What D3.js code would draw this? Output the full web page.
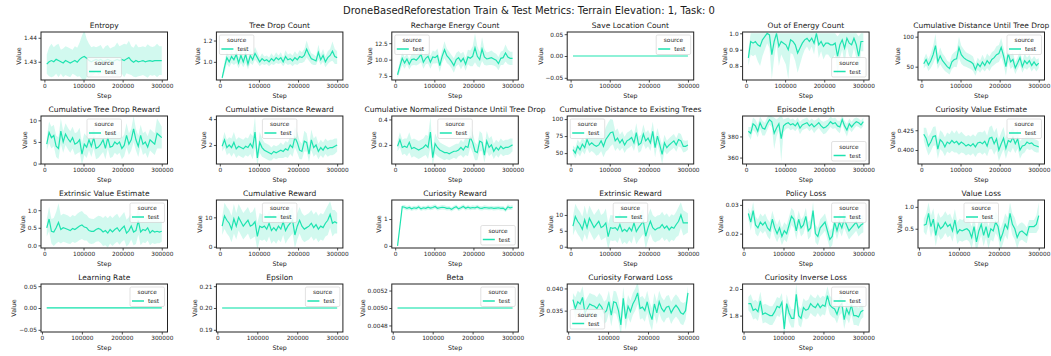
<!DOCTYPE html>
<html><head><meta charset="utf-8">
<script src="https://cdn.jsdelivr.net/npm/d3@7"></script>
<style>body{margin:0;background:#fff}svg text{font-family:"DejaVu Sans",sans-serif}</style>
</head><body><svg id="c" width="1051" height="356"></svg>
<script>
const stepsA = d3.range(6000, 300001, 6000);   // 50 summary steps
const stepsB = d3.range(12000, 300001, 6000);  // 49 summary steps
const xTicks = [0, 100000, 200000, 300000];

const entropy = [1.4290,1.4300,1.4305,1.4300,1.4310,1.4305,1.4300,1.4295,1.4305,1.4300,
 1.4295,1.4300,1.4305,1.4298,1.4310,1.4318,1.4322,1.4315,1.4305,1.4300,
 1.4305,1.4310,1.4305,1.4310,1.4302,1.4305,1.4310,1.4305,1.4300,1.4305,
 1.4310,1.4305,1.4310,1.4305,1.4312,1.4318,1.4305,1.4298,1.4305,1.4300,
 1.4302,1.4305,1.4300,1.4303,1.4305,1.4302,1.4305,1.4305,1.4305,1.4305];
const entropySpread = [0.004,0.006,0.007,0.006,0.006,0.007,0.005,0.006,0.006,0.006,
 0.006,0.005,0.006,0.006,0.007,0.009,0.011,0.008,0.007,0.006,
 0.006,0.005,0.006,0.006,0.005,0.006,0.006,0.005,0.006,0.006,
 0.007,0.006,0.006,0.007,0.006,0.007,0.006,0.006,0.007,0.006,
 0.006,0.006,0.006,0.007,0.006,0.006,0.006,0.007,0.006,0.006];

const treeDrop = [0.85,0.95,1.04,1.00,1.05,1.02,1.07,0.99,1.06,1.00,
 1.07,0.98,1.06,1.02,1.08,1.04,1.00,1.03,1.01,1.02,
 1.00,1.03,1.01,1.04,1.02,1.04,1.00,1.05,1.02,1.03,
 1.01,1.04,1.02,1.05,1.04,1.06,1.12,1.07,1.03,1.02,
 1.01,1.09,1.02,1.06,1.00,1.04,1.06,1.10,1.05,1.04];
const treeDropSpread = [0.02,0.05,0.06,0.05,0.06,0.05,0.08,0.05,0.07,0.05,
 0.08,0.05,0.07,0.05,0.06,0.05,0.04,0.05,0.04,0.04,
 0.04,0.05,0.04,0.05,0.04,0.05,0.04,0.06,0.05,0.05,
 0.05,0.06,0.05,0.06,0.05,0.06,0.08,0.06,0.05,0.05,
 0.04,0.07,0.05,0.06,0.05,0.06,0.06,0.09,0.07,0.06];

const recharge = [7.7,9.0,10.2,9.5,10.1,9.3,10.0,10.1,9.9,10.3,
 10.8,9.6,10.2,10.5,9.6,10.4,10.3,10.6,9.1,10.5,
 11.5,10.6,10.2,9.7,9.1,10.0,10.3,9.7,10.2,9.3,
 10.4,10.2,10.5,11.8,10.5,10.0,11.6,10.4,10.1,10.2,
 10.3,10.1,9.9,9.4,10.2,10.3,11.0,10.4,10.2,10.2];
const rechargeSpread = [0.5,0.8,1.0,0.9,0.8,0.8,0.9,0.9,0.8,1.0,
 1.2,1.0,0.9,1.1,1.0,1.0,0.9,1.1,1.0,1.0,
 1.3,1.1,1.0,1.0,1.1,1.0,1.0,1.2,1.0,1.0,
 1.1,1.2,1.5,2.2,1.5,1.2,1.8,1.2,1.0,1.0,
 1.1,1.0,1.0,1.0,1.0,1.1,1.3,1.1,1.0,1.0];

const saveLoc = stepsA.map(() => 0);
const saveLocSpread = stepsA.map(() => 0);

const outEnergy = [0.85,0.95,0.94,0.95,0.93,0.92,0.96,0.98,1.00,0.99,
 0.87,0.95,1.00,0.92,0.95,0.94,0.93,0.90,0.96,0.95,
 0.93,0.88,0.91,0.94,0.96,0.97,0.95,0.97,0.94,1.00,
 0.93,0.95,0.92,0.94,0.94,0.93,0.93,0.94,0.86,0.93,
 0.96,0.91,0.97,0.94,0.93,0.97,0.93,0.86,0.95,0.95];
const outEnergySpread = [0.05,0.08,0.08,0.08,0.10,0.12,0.10,0.08,0.06,0.08,
 0.15,0.10,0.06,0.12,0.08,0.10,0.12,0.18,0.08,0.08,
 0.10,0.12,0.10,0.08,0.06,0.05,0.06,0.05,0.07,0.04,
 0.08,0.06,0.08,0.07,0.07,0.08,0.08,0.07,0.12,0.08,
 0.06,0.10,0.05,0.08,0.08,0.06,0.08,0.12,0.06,0.06];

const cumDist = [55,62,53,60,70,85,58,68,60,55,
 50,47,58,62,63,82,70,65,62,60,
 58,55,45,55,50,58,52,60,55,62,
 65,70,72,82,68,50,72,58,62,48,
 56,65,50,60,55,60,52,58,52,56];
const cumDistSpread = [8,10,10,12,15,20,12,14,12,12,
 10,10,12,12,14,18,15,14,12,12,
 12,12,10,10,10,12,10,12,12,12,
 12,14,14,16,14,15,14,12,12,10,
 10,12,10,12,10,10,10,10,10,8];

const treeDropReward = [4.5,7.2,6.0,6.5,4.0,3.5,7.5,5.0,6.8,5.8,
 5.0,6.0,4.5,4.8,5.5,2.2,4.5,3.8,5.5,4.0,
 6.0,3.5,3.8,4.5,5.5,3.5,6.0,3.8,4.0,5.0,
 4.5,5.0,3.5,4.2,6.5,4.5,5.5,8.0,5.5,4.0,
 6.5,4.5,5.0,3.8,5.5,5.0,4.5,7.0,6.5,6.0];
const treeDropRewardSpread = [1.5,2.5,2.5,2.5,2.5,2.5,3.0,2.5,2.5,2.5,
 2.5,2.5,2.5,2.5,2.8,2.5,2.5,2.5,2.5,2.5,
 2.5,2.5,2.5,2.5,2.8,2.5,2.5,2.5,2.5,2.5,
 2.5,2.5,2.5,2.5,2.8,2.5,2.5,3.0,2.5,2.5,
 2.5,2.5,2.5,2.5,2.5,2.5,2.5,3.5,3.0,2.5];

const distReward = [1.9,2.4,1.8,2.0,1.8,2.2,1.7,1.9,1.8,1.7,
 1.9,1.8,2.1,1.8,3.0,1.0,2.2,1.8,1.6,1.5,
 1.4,1.3,1.5,1.4,1.5,1.6,1.5,1.7,1.6,2.0,
 1.8,2.6,2.2,1.6,1.5,2.3,2.2,1.3,2.4,1.8,
 2.0,1.5,1.8,1.6,1.9,1.7,1.8,1.8,1.9,2.0];
const distRewardSpread = [0.4,0.6,0.6,0.6,0.7,0.8,0.7,0.7,0.7,0.7,
 0.7,0.7,0.8,0.9,1.2,0.6,0.8,0.7,0.6,0.6,
 0.6,0.5,0.5,0.5,0.5,0.6,0.5,0.6,0.6,0.7,
 0.7,0.8,0.8,0.7,0.6,0.8,0.7,0.6,0.8,0.7,
 0.7,0.6,0.6,0.6,0.6,0.6,0.6,0.6,0.6,0.5];

const normDist = [0.19,0.24,0.18,0.19,0.18,0.22,0.17,0.18,0.17,0.16,
 0.17,0.18,0.20,0.18,0.30,0.10,0.21,0.18,0.16,0.15,
 0.14,0.14,0.13,0.14,0.15,0.15,0.16,0.18,0.16,0.19,
 0.18,0.26,0.22,0.15,0.14,0.23,0.22,0.12,0.23,0.18,
 0.20,0.15,0.18,0.16,0.19,0.17,0.18,0.18,0.19,0.20];
const normDistSpread = [0.04,0.06,0.06,0.06,0.07,0.08,0.07,0.07,0.07,0.07,
 0.07,0.07,0.08,0.09,0.12,0.06,0.08,0.07,0.06,0.06,
 0.06,0.05,0.05,0.05,0.05,0.06,0.05,0.06,0.06,0.07,
 0.07,0.08,0.08,0.07,0.06,0.08,0.07,0.06,0.08,0.07,
 0.07,0.06,0.06,0.06,0.06,0.06,0.06,0.06,0.06,0.05];

const existDist = [55,50,60,55,63,58,70,62,65,62,
 60,62,68,60,70,75,80,81,68,72,
 65,70,62,68,70,73,65,80,62,65,
 78,68,72,65,82,58,75,62,48,65,
 58,62,65,68,62,70,68,60,60,62];
const existDistSpread = [6,8,10,10,10,10,12,12,12,12,
 14,14,15,16,18,20,20,18,15,14,
 12,12,12,12,12,12,12,14,12,12,
 14,12,12,12,14,14,12,12,14,12,
 10,10,10,10,10,10,10,9,8,7];

const epLength = [385,383,392,390,385,393,388,387,392,396,
 394,383,388,392,378,390,392,393,391,392,
 390,393,388,391,392,393,390,392,389,391,
 393,390,388,389,391,394,392,393,390,389,
 396,390,386,392,389,392,394,393,391,394];
const epLengthSpread = [4,6,6,6,6,6,7,6,6,5,
 5,15,8,6,22,6,5,5,5,5,
 5,5,6,5,5,5,5,5,6,5,
 5,5,6,6,5,5,5,5,5,6,
 4,5,6,5,5,5,4,4,4,4];

const curValEst = [0.420,0.415,0.405,0.410,0.417,0.418,0.401,0.413,0.410,0.404,
 0.410,0.408,0.412,0.409,0.411,0.407,0.410,0.408,0.405,0.407,
 0.405,0.408,0.404,0.409,0.410,0.408,0.411,0.405,0.415,0.416,
 0.408,0.414,0.400,0.408,0.415,0.402,0.412,0.410,0.416,0.408,
 0.414,0.400,0.405,0.406,0.410,0.408,0.409,0.406,0.405,0.404];
const curValEstSpread = [0.008,0.013,0.012,0.012,0.012,0.012,0.012,0.012,0.012,0.012,
 0.012,0.012,0.013,0.012,0.014,0.013,0.013,0.012,0.012,0.012,
 0.012,0.012,0.013,0.013,0.013,0.014,0.014,0.013,0.014,0.015,
 0.014,0.014,0.014,0.014,0.014,0.013,0.013,0.013,0.013,0.012,
 0.012,0.011,0.010,0.009,0.008,0.008,0.008,0.008,0.008,0.007];

const extValEst = [0.50,0.75,0.40,0.38,0.50,0.65,0.45,0.50,0.48,0.45,
 0.42,0.48,0.45,0.50,0.55,0.58,0.52,0.50,0.42,0.40,
 0.40,0.45,0.48,0.45,0.38,0.42,0.35,0.45,0.38,0.45,
 0.50,0.40,0.48,0.55,0.35,0.42,0.55,0.38,0.42,0.70,
 0.38,0.45,0.42,0.50,0.35,0.42,0.38,0.40,0.38,0.40];
const extValEstSpread = [0.25,0.35,0.35,0.40,0.45,0.55,0.40,0.40,0.40,0.40,
 0.38,0.38,0.38,0.40,0.40,0.40,0.38,0.36,0.36,0.36,
 0.35,0.35,0.36,0.38,0.40,0.42,0.42,0.40,0.40,0.40,
 0.40,0.38,0.38,0.40,0.38,0.38,0.38,0.38,0.38,0.40,
 0.38,0.36,0.36,0.36,0.35,0.35,0.34,0.34,0.32,0.30];

const cumReward = [7.0,10.5,9.0,8.0,6.0,9.5,7.0,10.0,8.5,7.0,
 8.0,9.0,7.0,7.5,8.5,3.5,7.0,6.5,7.0,6.0,
 8.0,5.5,6.5,5.5,7.0,6.0,8.5,5.5,7.0,8.0,
 9.0,4.0,7.0,9.0,7.0,6.0,6.5,7.0,8.0,6.5,
 7.5,6.0,7.0,6.5,8.0,9.0,11.0,8.0,8.5,8.0];
const cumRewardSpread = [3.0,4.5,4.5,4.5,4.5,5.0,4.5,4.5,4.5,4.5,
 4.5,4.5,4.5,4.5,5.0,4.5,4.5,4.5,4.5,4.5,
 4.5,4.5,4.5,4.5,4.5,4.5,4.5,4.5,4.5,4.5,
 4.5,4.5,4.5,4.5,4.5,4.5,4.5,4.5,4.5,4.5,
 4.5,4.5,4.5,4.5,4.5,5.0,4.5,4.5,4.0,3.5];

const curReward = [0.00,0.72,1.46,1.44,1.40,1.43,1.38,1.42,1.40,1.45,
 1.38,1.42,1.40,1.44,1.41,1.43,1.47,1.40,1.42,1.44,
 1.43,1.40,1.41,1.36,1.42,1.46,1.38,1.42,1.47,1.40,
 1.44,1.41,1.43,1.42,1.45,1.41,1.40,1.43,1.42,1.41,
 1.42,1.40,1.41,1.42,1.40,1.41,1.34,1.45,1.42,1.44];
const curRewardSpread = [0.01,0.04,0.06,0.08,0.08,0.08,0.08,0.08,0.08,0.08,
 0.08,0.08,0.08,0.08,0.08,0.08,0.08,0.08,0.08,0.08,
 0.08,0.08,0.08,0.08,0.08,0.08,0.08,0.08,0.08,0.08,
 0.08,0.08,0.08,0.08,0.08,0.08,0.08,0.08,0.08,0.08,
 0.08,0.08,0.08,0.08,0.08,0.08,0.08,0.10,0.08,0.08];

const extReward = [6.5,9.5,8.0,7.0,5.5,8.5,6.0,9.0,7.5,6.0,
 7.0,8.0,6.0,6.5,7.5,3.2,6.0,5.8,6.0,5.2,
 7.0,4.8,5.5,4.8,6.0,5.0,7.5,4.8,6.0,7.0,
 8.0,3.3,6.0,8.0,6.0,5.3,5.8,6.0,7.0,5.8,
 6.5,5.3,6.2,5.8,7.0,8.0,10.0,7.5,7.5,7.5];
const extRewardSpread = [3.0,4.0,4.0,4.0,4.0,4.5,4.0,4.0,4.0,4.0,
 4.0,4.0,4.0,4.0,4.5,4.0,4.0,4.0,4.0,4.0,
 4.0,4.0,4.0,4.0,4.0,4.0,4.0,4.0,4.0,4.0,
 4.0,4.0,4.0,4.0,4.0,4.0,4.0,4.0,4.0,4.0,
 4.0,4.0,4.0,4.0,4.0,4.5,4.0,4.0,3.5,3.0];

const policyLoss = [0.0270,0.0240,0.0280,0.0230,0.0220,0.0240,0.0230,0.0240,0.0220,0.0210,
 0.0250,0.0220,0.0200,0.0220,0.0190,0.0210,0.0200,0.0230,0.0260,0.0250,
 0.0210,0.0250,0.0220,0.0230,0.0260,0.0210,0.0220,0.0280,0.0200,0.0190,
 0.0220,0.0230,0.0240,0.0210,0.0180,0.0190,0.0240,0.0210,0.0240,0.0220,
 0.0250,0.0230,0.0210,0.0220,0.0230,0.0240,0.0220,0.0230,0.0235];
const policyLossSpread = [0.002,0.003,0.003,0.003,0.003,0.003,0.003,0.003,0.003,0.003,
 0.003,0.003,0.003,0.003,0.003,0.003,0.003,0.003,0.003,0.003,
 0.003,0.003,0.003,0.003,0.003,0.003,0.003,0.003,0.003,0.003,
 0.003,0.003,0.003,0.003,0.003,0.003,0.003,0.003,0.003,0.003,
 0.003,0.003,0.003,0.003,0.003,0.003,0.003,0.003,0.003];

const valueLoss = [0.58,0.60,0.85,0.55,0.72,0.35,0.62,0.50,0.55,0.65,
 0.55,0.60,0.45,0.70,0.40,0.48,0.45,0.48,0.50,0.45,
 0.30,0.55,0.20,0.45,0.60,0.35,0.55,0.30,0.50,0.45,
 0.65,0.55,0.25,0.40,0.60,0.50,0.85,0.60,0.50,0.30,
 0.42,0.45,0.40,0.35,0.55,0.55,0.55,0.60,0.80];
const valueLossSpread = [0.15,0.25,0.25,0.25,0.25,0.25,0.25,0.25,0.25,0.25,
 0.25,0.25,0.25,0.25,0.25,0.25,0.25,0.25,0.25,0.25,
 0.25,0.25,0.25,0.25,0.25,0.25,0.25,0.25,0.25,0.25,
 0.25,0.25,0.25,0.25,0.25,0.25,0.25,0.25,0.25,0.25,
 0.20,0.20,0.20,0.18,0.15,0.15,0.15,0.20,0.30];

const learningRate = stepsB.map(() => 0.0003);
const learningRateSpread = stepsB.map(() => 0.0015);
const epsilon = stepsB.map(() => 0.2);
const epsilonSpread = stepsB.map(() => 0.0003);
const beta = stepsB.map(() => 0.005);
const betaSpread = stepsB.map(() => 0.000008);

const fwdLoss = [0.0375,0.0355,0.0370,0.0365,0.0380,0.0345,0.0355,0.0365,0.0362,0.0360,
 0.0355,0.0365,0.0358,0.0345,0.0350,0.0370,0.0340,0.0370,0.0368,0.0350,
 0.0318,0.0378,0.0332,0.0360,0.0348,0.0365,0.0375,0.0390,0.0355,0.0358,
 0.0350,0.0370,0.0345,0.0330,0.0365,0.0345,0.0370,0.0355,0.0348,0.0358,
 0.0360,0.0345,0.0355,0.0362,0.0355,0.0345,0.0342,0.0350,0.0390];
const fwdLossSpread = [0.0015,0.0025,0.0025,0.0025,0.0025,0.0025,0.0025,0.0025,0.0025,0.0025,
 0.0025,0.0025,0.0025,0.0025,0.0025,0.0025,0.0025,0.0025,0.0025,0.0025,
 0.0025,0.0025,0.0025,0.0025,0.0025,0.0025,0.0025,0.0025,0.0025,0.0025,
 0.0025,0.0025,0.0025,0.0025,0.0025,0.0025,0.0025,0.0025,0.0025,0.0025,
 0.0025,0.0025,0.0025,0.0025,0.0025,0.0025,0.0025,0.0020,0.0015];

const invLoss = [1.89,1.89,1.84,1.85,1.83,1.91,1.81,1.82,1.81,1.80,
 1.80,1.83,1.87,1.86,1.90,1.70,1.89,1.82,1.78,1.78,
 1.96,1.80,1.78,1.86,1.84,1.85,1.89,1.87,1.86,1.89,
 1.86,1.88,1.87,1.95,1.88,1.86,1.85,1.81,1.87,1.89,
 1.77,1.85,1.81,1.88,1.80,1.80,1.79,1.83,1.84];
const invLossSpread = [0.05,0.07,0.07,0.07,0.07,0.07,0.07,0.07,0.07,0.07,
 0.07,0.07,0.07,0.07,0.07,0.08,0.07,0.07,0.07,0.07,
 0.08,0.07,0.07,0.07,0.07,0.07,0.07,0.07,0.07,0.07,
 0.07,0.07,0.07,0.07,0.07,0.07,0.07,0.07,0.07,0.07,
 0.07,0.07,0.07,0.07,0.07,0.07,0.07,0.06,0.05];

const titles = ["Entropy","Tree Drop Count","Recharge Energy Count","Save Location Count","Out of Energy Count","Cumulative Distance Until Tree Drop",
 "Cumulative Tree Drop Reward","Cumulative Distance Reward","Cumulative Normalized Distance Until Tree Drop","Cumulative Distance to Existing Trees","Episode Length","Curiosity Value Estimate",
 "Extrinsic Value Estimate","Cumulative Reward","Curiosity Reward","Extrinsic Reward","Policy Loss","Value Loss",
 "Learning Rate","Epsilon","Beta","Curiosity Forward Loss","Curiosity Inverse Loss"];
const yTickSets = [[1.43,1.44],[1.0,1.2],[7.5,10,12.5],[-0.05,0,0.05],[0.8,0.9,1.0],[50,100],
 [0,5,10],[2,4],[0.2,0.4],[50,75,100],[360,380],[0.400,0.425],
 [0,0.5,1.0],[0,10],[0,1],[0,5,10],[0.02,0.03],[0.5,1.0],
 [-0.05,0,0.05],[0.19,0.20,0.21],[0.0048,0.0050,0.0052],[0.035,0.040],[1.8,2.0]];
const yFormats = [".2f",".1f",".1f",".2f",".1f","d",
 "d","d",".1f","d","d",".3f",
 ".1f","d","d","d",".2f",".1f",
 ".2f",".2f",".4f",".3f",".1f"];

const main = d3.select("#c");
main.append("rect").attr("width",1051).attr("height",356).attr("fill","#fff");
main.append("text").attr("x",529).attr("y",14).attr("text-anchor","middle")
  .attr("font-size",10).attr("fill","#1a1a1a")
  .text("DroneBasedReforestation Train & Test Metrics: Terrain Elevation: 1, Task: 0");

const panels = [
 {m:entropy,s:entropySpread,st:stepsA,yd:[1.4224,1.4424],lg:"lc"},
 {m:treeDrop,s:treeDropSpread,st:stepsA,yd:[0.83,1.28],lg:"ul"},
 {m:recharge,s:rechargeSpread,st:stepsA,yd:[6.9,14.2],lg:"ul"},
 {m:saveLoc,s:saveLocSpread,st:stepsA,yd:[-0.055,0.055],lg:"ur"},
 {m:outEnergy,s:outEnergySpread,st:stepsA,yd:[0.715,1.008],lg:"lr",cap:1.0},
 {m:cumDist,s:cumDistSpread,st:stepsA,yd:[27.8,107.8],lg:"ur"},
 {m:treeDropReward,s:treeDropRewardSpread,st:stepsA,yd:[-0.1,11.0],lg:"uc"},
 {m:distReward,s:distRewardSpread,st:stepsA,yd:[0.53,4.24],lg:"uc"},
 {m:normDist,s:normDistSpread,st:stepsA,yd:[0.05,0.427],lg:"uc"},
 {m:existDist,s:existDistSpread,st:stepsA,yd:[34,104.5],lg:"ul"},
 {m:epLength,s:epLengthSpread,st:stepsA,yd:[353.9,399.4],lg:"lr"},
 {m:curValEst,s:curValEstSpread,st:stepsA,yd:[0.3823,0.443],lg:"ur"},
 {m:extValEst,s:extValEstSpread,st:stepsA,yd:[-0.075,1.29],lg:"ur"},
 {m:cumReward,s:cumRewardSpread,st:stepsA,yd:[-0.43,15.9],lg:"uc"},
 {m:curReward,s:curRewardSpread,st:stepsA,yd:[-0.08,1.71],lg:"lr"},
 {m:extReward,s:extRewardSpread,st:stepsA,yd:[-0.4,14.7],lg:"uc"},
 {m:policyLoss,s:policyLossSpread,st:stepsB,yd:[0.015,0.0317],lg:"ur"},
 {m:valueLoss,s:valueLossSpread,st:stepsB,yd:[0.06,1.157],lg:"uc"},
 {m:learningRate,s:learningRateSpread,st:stepsB,yd:[-0.055,0.055],lg:"ur"},
 {m:epsilon,s:epsilonSpread,st:stepsB,yd:[0.189,0.211],lg:"ur"},
 {m:beta,s:betaSpread,st:stepsB,yd:[0.004725,0.005275],lg:"ur"},
 {m:fwdLoss,s:fwdLossSpread,st:stepsB,yd:[0.0302,0.041],lg:"ll"},
 {m:invLoss,s:invLossSpread,st:stepsB,yd:[1.677,2.0375],lg:"ur"}
];

const LINE = "#1ee3b0";
const W = 126.5, H = 48;

panels.forEach((p, i) => {
  const col = i % 6, row = Math.floor(i / 6);
  const L = 41 + col * 175.4, T = 32 + row * 84;
  const g = main.append("g").attr("transform", `translate(${L},${T})`);
  const x0 = p.st[0], span = 300000 - x0;
  const x = d3.scaleLinear().domain([x0 - span * 0.05, 300000 + span * 0.05]).range([0, W]);
  const y = d3.scaleLinear().domain(p.yd).range([H, 0]);
  const cid = "clip" + i;
  g.append("clipPath").attr("id", cid).append("rect").attr("width", W).attr("height", H);
  const plot = g.append("g").attr("clip-path", `url(#${cid})`);
  const cap = p.cap === undefined ? Infinity : p.cap;
  const area = d3.area()
    .x((d, j) => x(p.st[j]))
    .y0((d, j) => y(d - p.s[j]))
    .y1((d, j) => y(Math.min(cap, d + p.s[j])));
  plot.append("path").datum(p.m).attr("d", area).attr("fill", LINE).attr("fill-opacity", 0.2);
  const line = d3.line().x((d, j) => x(p.st[j])).y(d => y(d));
  plot.append("path").datum(p.m).attr("d", line).attr("fill", "none")
    .attr("stroke", LINE).attr("stroke-width", 1.2);

  // axes
  const xa = g.append("g").attr("transform", `translate(0,${H})`)
    .call(d3.axisBottom(x).tickValues(xTicks).tickFormat(d3.format("d")).tickSize(2.5).tickPadding(1.5));
  const ya = g.append("g")
    .call(d3.axisLeft(y).tickValues(yTickSets[i]).tickFormat(d3.format(yFormats[i])).tickSize(2.5).tickPadding(1.5));
  [xa, ya].forEach(a => {
    a.select(".domain").remove();
    a.selectAll("line").attr("stroke", "#222").attr("stroke-width", 0.8);
    a.selectAll("text").attr("font-size", 5.8).attr("fill", "#222").attr("font-family", "DejaVu Sans");
  });
  let maxW = 0;
  ya.selectAll("text").each(function () { maxW = Math.max(maxW, this.getBBox().width); });

  g.append("rect").attr("width", W).attr("height", H).attr("fill", "none")
    .attr("stroke", "#222").attr("stroke-width", 1);

  g.append("text").attr("x", W / 2).attr("y", -4).attr("text-anchor", "middle")
    .attr("font-size", 7.5).attr("fill", "#1a1a1a").text(titles[i]);
  g.append("text").attr("x", W / 2).attr("y", H + 17.5).attr("text-anchor", "middle")
    .attr("font-size", 6.3).attr("fill", "#1a1a1a").text("Step");
  g.append("text").attr("transform", `translate(${-maxW - 6.5},${H / 2}) rotate(-90)`)
    .attr("text-anchor", "middle").attr("font-size", 6.3).attr("fill", "#1a1a1a").text("Value");

  // legend
  const lw = 34.5, lh = 19.5;
  const pos = {
    ul: [3, 3], ur: [W - 3 - lw, 3], uc: [(W - lw) / 2, 3],
    ll: [3, H - 3 - lh], lr: [W - 3 - lw, H - 3 - lh], lc: [(W - lw) / 2, H - 3 - lh]
  }[p.lg];
  const lgd = g.append("g").attr("transform", `translate(${pos[0]},${pos[1]})`);
  lgd.append("rect").attr("width", lw).attr("height", lh).attr("rx", 1.5)
    .attr("fill", "#fff").attr("fill-opacity", 0.8).attr("stroke", "#cccccc").attr("stroke-width", 0.6);
  lgd.append("text").attr("x", lw / 2).attr("y", 7.3).attr("text-anchor", "middle")
    .attr("font-size", 5.8).attr("fill", "#222").text("source");
  lgd.append("path").attr("d", "M2,14H14").attr("fill", "none")
    .attr("stroke", LINE).attr("stroke-width", 1.5);
  lgd.append("text").attr("x", 18).attr("y", 16.1).attr("font-size", 5.8).attr("fill", "#222").text("test");
});
</script></body></html>
